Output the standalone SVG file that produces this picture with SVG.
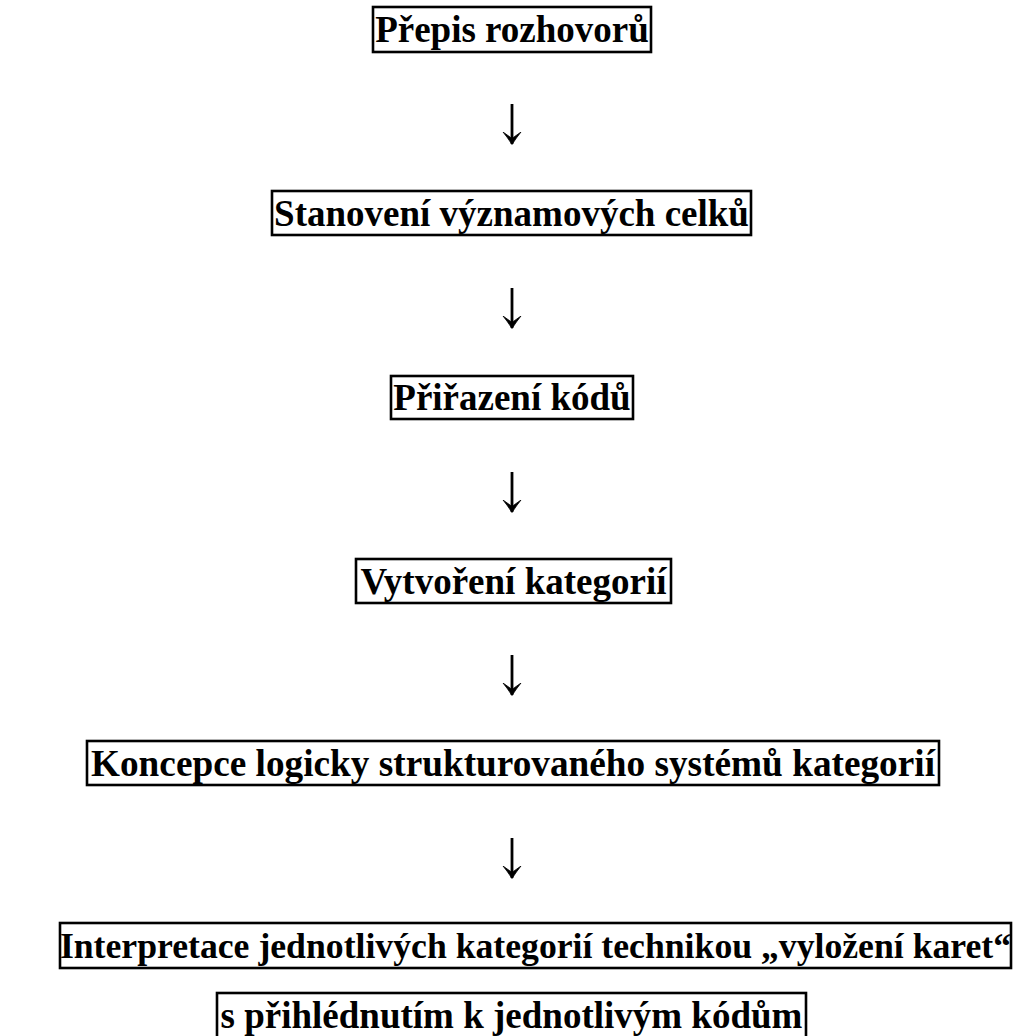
<svg xmlns="http://www.w3.org/2000/svg" width="1017" height="1036" viewBox="0 0 1017 1036">
<style>
.box{fill:none;stroke:#000;stroke-width:2.6}
.t{font-family:"Liberation Serif","Times New Roman",serif;font-weight:bold;font-size:37px;fill:#000;text-anchor:middle}
.c{stroke:#000;stroke-width:2.8;fill:none}
</style>
<defs>
<marker id="ah" markerUnits="userSpaceOnUse" markerWidth="14" markerHeight="20" refX="12.5" refY="10" orient="auto" viewBox="0 0 14 20">
<path d="M0.5,1 Q6,5.5 13,10 Q6,14.5 0.5,19 Q4,14 7,10 Q4,6 0.5,1 Z" fill="#000" stroke="#000" stroke-width="0.8" stroke-linejoin="round"/>
</marker>
</defs>
<rect width="1017" height="1036" fill="#fff"/>
<g id="connectors">
<line class="c" x1="512" y1="104" x2="512" y2="144" marker-end="url(#ah)"/>
<line class="c" x1="512" y1="288" x2="512" y2="328" marker-end="url(#ah)"/>
<line class="c" x1="512" y1="472" x2="512" y2="512" marker-end="url(#ah)"/>
<line class="c" x1="512" y1="655" x2="512" y2="695" marker-end="url(#ah)"/>
<line class="c" x1="512" y1="838" x2="512" y2="878" marker-end="url(#ah)"/>
</g>
<g id="n1"><rect class="box" x="373" y="7" width="278" height="45"/><text class="t" x="512" y="42">Přepis rozhovorů</text></g>
<g id="n2"><rect class="box" x="272" y="191" width="479" height="44"/><text class="t" x="511.5" y="226">Stanovení významových celků</text></g>
<g id="n3"><rect class="box" x="391" y="376" width="242" height="43"/><text class="t" x="512" y="410">Přiřazení kódů</text></g>
<g id="n4"><rect class="box" x="356" y="559" width="315" height="44"/><text class="t" x="513.5" y="594">Vytvoření kategorií</text></g>
<g id="n5"><rect class="box" x="87" y="741" width="852" height="44"/><text class="t" x="513" y="776" textLength="844" lengthAdjust="spacingAndGlyphs">Koncepce logicky strukturovaného systémů kategorií</text></g>
<g id="n6"><rect class="box" x="60" y="923" width="951" height="45"/><text class="t" x="535.5" y="958" style="font-size:35.7px">Interpretace jednotlivých kategorií technikou „vyložení karet“</text></g>
<g id="n7"><rect class="box" x="217" y="993" width="589" height="50"/><text class="t" x="511.5" y="1028">s přihlédnutím k jednotlivým kódům</text></g>
</svg>
